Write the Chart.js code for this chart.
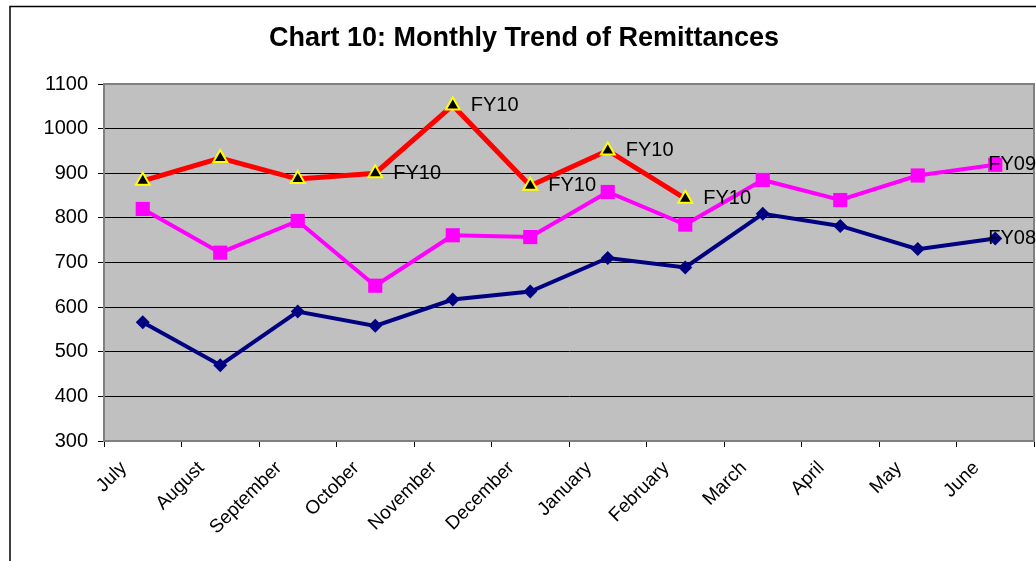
<!DOCTYPE html>
<html lang="en">
<head>
    <meta charset="UTF-8">
    <title>Chart 10: Monthly Trend of Remittances</title>
    <script src="https://cdn.jsdelivr.net/npm/chart.js"></script>
    <style>
        body { background: #fff; margin: 0; padding: 0; }
        #wrap { width: 1036px; height: 561px; }
    </style>
</head>
<body>
<div id="wrap">
    <canvas id="remitChart" width="1036" height="561"></canvas>
</div>
<script>
// data
const months = ['July', 'August', 'September', 'October', 'November', 'December',
                'January', 'February', 'March', 'April', 'May', 'June'];
const fy10 = [883, 934, 887, 900, 1052, 872, 951, 843];
const fy09 = [820, 722, 793, 648, 761, 757, 858, 785, 885, 840, 895, 919];
const fy08 = [566, 470, 590, 558, 617, 635, 710, 689, 809, 782, 730, 754];
const fy10Tags = [null, null, null, 'FY10', 'FY10', 'FY10', 'FY10', 'FY10'];
const fy09Tags = [null, null, null, null, null, null, null, null, null, null, null, 'FY09'];
const fy08Tags = [null, null, null, null, null, null, null, null, null, null, null, 'FY08'];
const yTicks = [300, 400, 500, 600, 700, 800, 900, 1000, 1100];

const FONT = '"Liberation Sans", Arial, sans-serif';

// grey plot background, plot border and outer frame
const frame = {
    id: 'frame',
    beforeDraw(chart) {
        const { ctx, chartArea: a } = chart;
        ctx.save();
        ctx.fillStyle = '#fff';
        ctx.fillRect(0, 0, chart.width, chart.height);
        ctx.fillStyle = '#c0c0c0';
        ctx.fillRect(a.left, a.top, a.right - a.left, a.bottom - a.top);
        ctx.strokeStyle = '#000';
        ctx.lineWidth = 1.5;
        ctx.strokeRect(10, 6.5, chart.width + 20, chart.height + 20);
        ctx.restore();
    },
    afterDatasetsDraw(chart) {
        const { ctx, chartArea: a } = chart;
        ctx.save();
        ctx.strokeStyle = '#808080';
        ctx.lineWidth = 2;
        ctx.beginPath();
        ctx.moveTo(a.left, a.top);
        ctx.lineTo(a.right, a.top);
        ctx.lineTo(a.right, a.bottom);
        ctx.stroke();
        ctx.restore();
    }
};

// series name tags next to points
const tags = {
    id: 'tags',
    afterDatasetsDraw(chart) {
        const ctx = chart.ctx;
        ctx.save();
        ctx.font = '20px ' + FONT;
        ctx.fillStyle = '#000';
        ctx.textBaseline = 'middle';
        ctx.textAlign = 'left';
        chart.data.datasets.forEach((ds, di) => {
            const meta = chart.getDatasetMeta(di);
            (ds.tags || []).forEach((t, i) => {
                if (!t || !meta.data[i]) return;
                const p = meta.data[i];
                ctx.fillText(t, p.x + ds.tagDx, p.y);
            });
        });
        ctx.restore();
    }
};

new Chart(document.getElementById('remitChart').getContext('2d'), {
    type: 'line',
    data: {
        labels: months,
        datasets: [
            { label: 'FY10', data: fy10, tags: fy10Tags, tagDx: 18,
              borderColor: '#ff0000', borderWidth: 5, pointStyle: 'triangle', pointRadius: 8,
              pointBackgroundColor: '#000', pointBorderColor: '#ffff00', pointBorderWidth: 2, tension: 0 },
            { label: 'FY09', data: fy09, tags: fy09Tags, tagDx: -7,
              borderColor: '#ff00ff', borderWidth: 4, pointStyle: 'rect', pointRadius: 10,
              pointBackgroundColor: '#ff00ff', pointBorderColor: '#ff00ff', pointBorderWidth: 0, tension: 0 },
            { label: 'FY08', data: fy08, tags: fy08Tags, tagDx: -7,
              borderColor: '#000080', borderWidth: 4, pointStyle: 'rectRot', pointRadius: 7,
              pointBackgroundColor: '#000080', pointBorderColor: '#000080', pointBorderWidth: 0, tension: 0 }
        ]
    },
    options: {
        responsive: false,
        animation: false,
        layout: { autoPadding: false, padding: { left: 14, right: 2, top: 0, bottom: 0 } },
        plugins: {
            legend: { display: false },
            tooltip: { enabled: false },
            title: {
                display: true,
                text: 'Chart 10: Monthly Trend of Remittances',
                color: '#000',
                font: { family: FONT, size: 27, weight: 'bold', lineHeight: 1 },
                padding: { top: 25, bottom: 32 }
            }
        },
        scales: {
            x: {
                offset: true,
                grid: { drawOnChartArea: false, offset: true, tickLength: 6, tickColor: '#000' },
                border: { color: '#808080', width: 2 },
                ticks: { minRotation: 45, maxRotation: 45, color: '#000', padding: 10, labelOffset: -19,
                         font: { family: FONT, size: 19 } },
                afterFit(s) { s.height = 120; s.paddingLeft = 0; s.paddingRight = 0; }
            },
            y: {
                min: 300, max: 1100,
                afterBuildTicks(s) { s.ticks = yTicks.map(v => ({ value: v })); },
                grid: { color: '#000', lineWidth: 1, tickLength: 6, tickColor: '#000' },
                border: { color: '#808080', width: 2 },
                ticks: { color: '#000', padding: 10, font: { family: FONT, size: 20 },
                         callback: v => String(v) },
                afterFit(s) { s.width = 90; }
            }
        }
    },
    plugins: [frame, tags]
});
</script>
</body>
</html>
